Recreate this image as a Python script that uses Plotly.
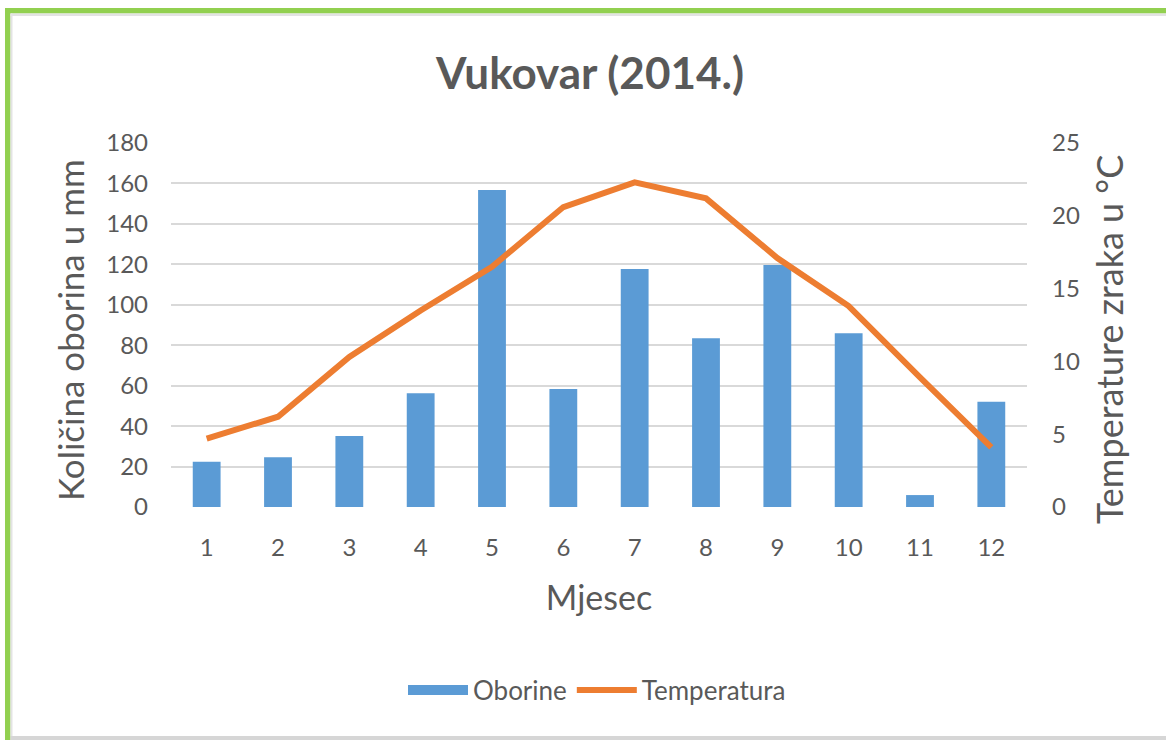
import plotly.graph_objects as go

# Monthly precipitation (mm) and mean air temperature (°C), Vukovar 2014
months = [1, 2, 3, 4, 5, 6, 7, 8, 9, 10, 11, 12]
oborine = [22.4, 24.6, 35.1, 56.2, 156.8, 58.4, 117.7, 83.4, 119.7, 85.9, 5.9, 52.1]
temperatura = [4.7, 6.2, 10.3, 13.5, 16.5, 20.6, 22.3, 21.2, 17.1, 13.8, 8.9, 4.1]

W, H = 1166, 740
L, R, T, B = 171, 1027, 143, 507
FONT = "Lato"
GREY = "#595959"
GRID = "#D9D9D9"
BLUE = "#5B9BD5"
ORANGE = "#ED7D31"


def px(x):
    return (x - L) / (R - L)


def py(y):
    return (B - y) / (B - T)


fig = go.Figure()
fig.add_trace(go.Bar(
    x=months, y=oborine, name="Oborine", width=0.39, showlegend=False,
    marker=dict(color=BLUE, line=dict(width=0)),
))
# wide swatch for the precipitation legend entry
fig.add_trace(go.Scatter(
    x=[None], y=[None], name="Oborine", mode="lines",
    line=dict(color=BLUE, width=20),
))
fig.add_trace(go.Scatter(
    x=months, y=temperatura, name="Temperatura", yaxis="y2",
    mode="lines", line=dict(color=ORANGE, width=6),
))

shapes = [
    # frame: green top and left edges with a thin grey inner edge
    dict(type="rect", xref="paper", yref="paper", x0=px(5), x1=px(10.5), y0=py(740), y1=py(8),
         fillcolor="#92D050", line=dict(width=0), layer="below"),
    dict(type="rect", xref="paper", yref="paper", x0=px(5), x1=px(1166), y0=py(13.5), y1=py(8),
         fillcolor="#92D050", line=dict(width=0), layer="below"),
    dict(type="rect", xref="paper", yref="paper", x0=px(10.5), x1=px(1166), y0=py(16), y1=py(13.5),
         fillcolor="#E3E3E3", line=dict(width=0), layer="below"),
    dict(type="rect", xref="paper", yref="paper", x0=px(10.5), x1=px(12.5), y0=py(736), y1=py(13.5),
         fillcolor="#E3E3E3", line=dict(width=0), layer="below"),
    dict(type="rect", xref="paper", yref="paper", x0=px(10.5), x1=px(1166), y0=py(740), y1=py(736),
         fillcolor="#D6D6D6", line=dict(width=0), layer="below"),
]

# vertical axis titles
annotations = [
    dict(text="Količina oborina u mm", xref="paper", yref="paper", x=px(70), y=py(330),
         xanchor="center", yanchor="middle", textangle=-90, showarrow=False,
         font=dict(size=35, color=GREY, family=FONT)),
    dict(text="Temperature zraka u °C", xref="paper", yref="paper", x=px(1109), y=py(340),
         xanchor="center", yanchor="middle", textangle=-90, showarrow=False,
         font=dict(size=36, color=GREY, family=FONT)),
]

fig.update_layout(
    width=W, height=H,
    margin=dict(l=L, r=W - R, t=T, b=H - B, pad=0),
    paper_bgcolor="white", plot_bgcolor="white",
    font=dict(family=FONT, color=GREY, size=24),
    title=dict(text="<b>Vukovar (2014.)</b>", x=px(590), xref="paper", xanchor="center",
               y=1 - 74 / H, yanchor="middle", font=dict(size=44, color=GREY, family=FONT)),
    bargap=0.6,
    showlegend=True,
    legend=dict(orientation="h", x=px(597), xanchor="center", y=py(690), yanchor="middle",
                font=dict(size=26, color=GREY), itemwidth=60, traceorder="normal"),
    xaxis=dict(
        tickmode="array", tickvals=months, ticktext=[str(m) for m in months],
        range=[0.5, 12.5], showgrid=False, zeroline=False, showline=False,
        ticks="", ticklabelstandoff=24, tickfont=dict(size=24, color=GREY),
        title=dict(text="Mjesec", font=dict(size=34, color=GREY), standoff=26),
    ),
    yaxis=dict(
        range=[0, 180], dtick=20, showgrid=True, gridcolor=GRID, gridwidth=1.5,
        zeroline=False, showline=False, ticks="", ticklabelstandoff=22,
        tickfont=dict(size=24, color=GREY),
    ),
    yaxis2=dict(
        range=[0, 25], dtick=5, overlaying="y", side="right", showgrid=False,
        zeroline=False, showline=False, ticks="", ticklabelstandoff=24,
        tickfont=dict(size=24, color=GREY),
    ),
    shapes=shapes,
    annotations=annotations,
)

fig.write_html("out.html")
